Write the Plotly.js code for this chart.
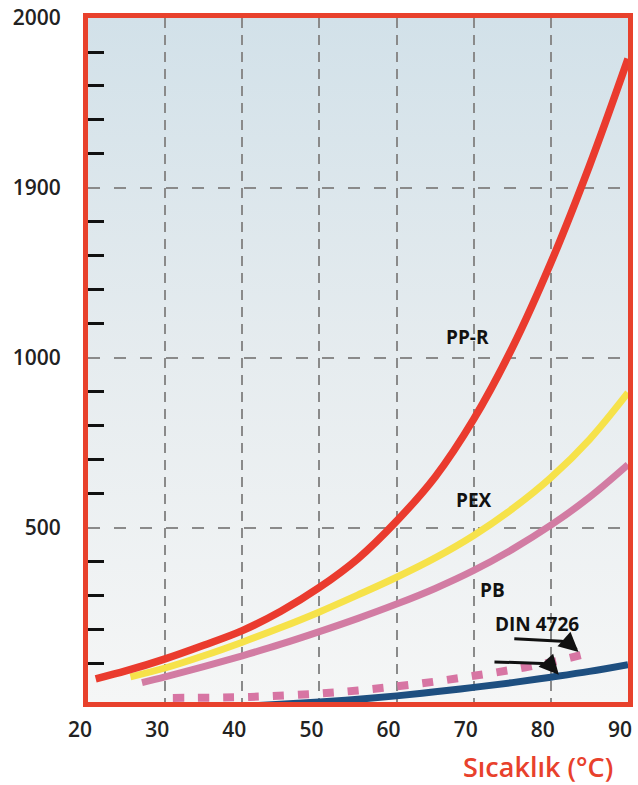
<!DOCTYPE html>
<html>
<head>
<meta charset="utf-8">
<script src="https://cdn.plot.ly/plotly-3.0.1.min.js"></script>
<style>html,body{margin:0;padding:0;background:#fff;}#chart{width:638px;height:785px;}</style>
</head>
<body>
<div id="chart"></div>
<script>
// ---- data ----
const xTicks = [20, 30, 40, 50, 60, 70, 80, 90];
const yTickVals = [500, 1000, 1500, 2000];
const yTickText = ['500', '1000', '1900', '2000'];

const pprX = [21, 25, 30, 35, 40, 45, 50, 55, 60, 65, 70, 75, 80, 85, 90];
const pprY = [56, 80, 115, 155, 198, 255, 325, 410, 520, 650, 820, 1030, 1280, 1565, 1880];

const pexX = [25.5, 30, 35, 40, 45, 50, 55, 60, 65, 70, 75, 80, 85, 90];
const pexY = [62, 88, 124, 164, 207, 253, 303, 355, 412, 478, 556, 648, 760, 898];

const pbX = [27, 30, 35, 40, 45, 50, 55, 60, 65, 70, 75, 80, 85, 90];
const pbY = [45, 62, 92, 124, 158, 195, 234, 276, 322, 375, 437, 508, 590, 686];

const dinX = [31, 41, 50, 55, 60, 65, 70, 75, 80, 85.5];
const dinY = [0, 3, 13, 22, 34, 48, 65, 83, 105, 135];

const blueX = [40, 50, 55, 60, 65, 70, 75, 80, 85, 90];
const blueY = [-25, -12, -4, 6, 18, 31, 45, 61, 78, 98];

const labelText = ['PP-R', 'PEX', 'PB', 'DIN 4726'];
const labelX = [69.2, 70.1, 72.4, 78.2];
const labelY = [1063, 581, 318, 218];

// ---- styling ----
const RED = '#e8412c';
const lineStyle = (c, w, dash) => ({color: c, width: w, shape: 'spline', smoothing: 1, dash: dash || 'solid'});

const traces = [
  {x: blueX, y: blueY, mode: 'lines', line: lineStyle('#1e4f80', 7), hoverinfo: 'skip'},
  {x: dinX, y: dinY, mode: 'lines', line: lineStyle('#d775a3', 8, '11px,14px'), hoverinfo: 'skip'},
  {x: pbX, y: pbY, mode: 'lines', line: lineStyle('#d27ca3', 7), hoverinfo: 'skip'},
  {x: pexX, y: pexY, mode: 'lines', line: lineStyle('#f6e24a', 7), hoverinfo: 'skip'},
  {x: pprX, y: pprY, mode: 'lines', line: lineStyle('#ea3b2e', 7.5), hoverinfo: 'skip'}
];

const minorVals = [];
for (let v = 100; v < 2000; v += 100) if (v % 500 !== 0) minorVals.push(v);

const bgSvg = "<svg xmlns='http://www.w3.org/2000/svg' width='100' height='100' viewBox='0 0 100 100' preserveAspectRatio='none'>" +
  "<defs><linearGradient id='g' x1='0' y1='0' x2='0' y2='1'>" +
  "<stop offset='0' stop-color='#d2e1e9'/><stop offset='0.5' stop-color='#e6ecef'/><stop offset='1' stop-color='#f5f6f6'/>" +
  "</linearGradient></defs><rect width='100' height='100' fill='url(#g)'/></svg>";

const tickFont = {family: 'Open Sans, sans-serif', size: 21, color: '#222', weight: 600};
const labFont = {family: 'Open Sans, sans-serif', size: 19, color: '#111', weight: 700};

const annotations = labelText.map((t, i) => ({
  x: labelX[i], y: labelY[i], xref: 'x', yref: 'y', text: t, showarrow: false,
  font: labFont, xanchor: 'center', yanchor: 'middle'
}));
annotations.push({
  xref: 'paper', yref: 'paper', x: 0.975, y: -0.095, xanchor: 'right', yanchor: 'middle',
  text: 'Sıcaklık (°C)', showarrow: false,
  font: {family: 'Open Sans, sans-serif', size: 27, color: RED, weight: 600}
});
// arrowheads
annotations.push({x: 83.59, y: 135, xref: 'x', yref: 'y', ax: -9, ay: -8, showarrow: true,
  arrowhead: 2, arrowsize: 1.3, arrowwidth: 3, arrowcolor: '#111', text: '', standoff: 0});
annotations.push({x: 81.03, y: 68, xref: 'x', yref: 'y', ax: -8, ay: -9, showarrow: true,
  arrowhead: 2, arrowsize: 1.3, arrowwidth: 3, arrowcolor: '#111', text: '', standoff: 0});

const shapes = [
  {type: 'path', xref: 'x', yref: 'y', path: 'M 75.26 174 L 81.4 167 Q 82.7 163 83.3 142',
   line: {color: '#111', width: 3}},
  {type: 'path', xref: 'x', yref: 'y', path: 'M 72.69 106 L 78.9 101 Q 80.2 97 80.7 76',
   line: {color: '#111', width: 3}}
];

const layout = {
  width: 638, height: 785,
  margin: {l: 88, r: 10, t: 18, b: 83},
  paper_bgcolor: '#ffffff',
  plot_bgcolor: 'rgba(0,0,0,0)',
  showlegend: false,
  images: [{
    source: 'data:image/svg+xml;charset=utf-8,' + encodeURIComponent(bgSvg),
    xref: 'paper', yref: 'paper', x: 0, y: 1, sizex: 1, sizey: 1,
    sizing: 'stretch', layer: 'below', xanchor: 'left', yanchor: 'top'
  }],
  xaxis: {
    range: [20, 90], tickmode: 'array', tickvals: xTicks, ticktext: xTicks.map(String),
    showgrid: true, gridcolor: '#8a8a8a', gridwidth: 2, griddash: '10px,7px',
    showline: true, linecolor: RED, linewidth: 5, mirror: true,
    ticks: '', tickfont: tickFont, ticklabelshift: -8, ticklabelstandoff: 5,
    zeroline: false, fixedrange: true
  },
  yaxis: {
    range: [-12, 2000], tickmode: 'array', tickvals: yTickVals, ticktext: yTickText,
    showgrid: true, gridcolor: '#8a8a8a', gridwidth: 2, griddash: '12px,14px',
    showline: true, linecolor: RED, linewidth: 5, mirror: true,
    ticks: '', tickfont: tickFont, ticklabelstandoff: 18,
    minor: {tickmode: 'array', tickvals: minorVals, ticks: 'inside', ticklen: 16, tickwidth: 3, tickcolor: '#111', showgrid: false},
    zeroline: false, fixedrange: true
  },
  annotations: annotations,
  shapes: shapes
};

Plotly.newPlot('chart', traces, layout, {staticPlot: true, displayModeBar: false});
</script>
</body>
</html>
